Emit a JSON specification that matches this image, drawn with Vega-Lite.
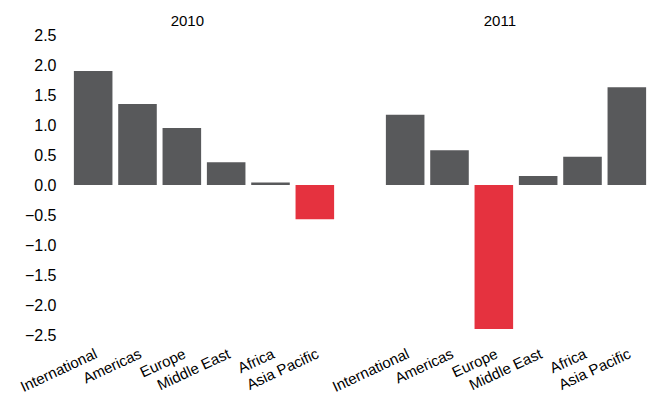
{
  "$schema": "https://vega.github.io/schema/vega-lite/v6.json",
  "padding": {"left": 17, "top": 14, "right": 0, "bottom": 0},
  "autosize": {"type": "pad"},
  "config": {"font": "Liberation Sans", "view": {"stroke": null}},
  "data": {
    "values": [
      {"year": "2010", "region": "International", "value": 1.9},
      {"year": "2010", "region": "Americas", "value": 1.35},
      {"year": "2010", "region": "Europe", "value": 0.95},
      {"year": "2010", "region": "Middle East", "value": 0.38},
      {"year": "2010", "region": "Africa", "value": 0.04},
      {"year": "2010", "region": "Asia Pacific", "value": -0.57},
      {"year": "2011", "region": "International", "value": 1.17},
      {"year": "2011", "region": "Americas", "value": 0.58},
      {"year": "2011", "region": "Europe", "value": -2.4},
      {"year": "2011", "region": "Middle East", "value": 0.15},
      {"year": "2011", "region": "Africa", "value": 0.47},
      {"year": "2011", "region": "Asia Pacific", "value": 1.63}
    ]
  },
  "facet": {
    "column": {
      "field": "year",
      "type": "ordinal",
      "header": {"title": null, "labelFontSize": 15, "labelColor": "#000000", "labelPadding": 6, "labelFont": "Liberation Sans", "labelAlign": "right", "labelAnchor": "middle"}
    }
  },
  "spacing": 46,
  "spec": {
    "width": 266,
    "height": 300,
    "mark": {"type": "bar"},
    "encoding": {
      "x": {
        "field": "region",
        "type": "nominal",
        "sort": null,
        "scale": {"paddingInner": 0.13, "paddingOuter": 0.065},
        "axis": {
          "title": null,
          "labelAngle": -25,
          "labelAlign": "right",
          "labelBaseline": "top",
          "ticks": false,
          "domain": false,
          "labelPadding": 11,
          "labelFontSize": 15,
          "labelColor": "#000000"
        }
      },
      "y": {
        "field": "value",
        "type": "quantitative",
        "scale": {"domain": [-2.5, 2.5], "nice": false},
        "axis": {
          "title": null,
          "values": [-2.5, -2, -1.5, -1, -0.5, 0, 0.5, 1, 1.5, 2, 2.5],
          "format": ".1f",
          "grid": false,
          "ticks": false,
          "domain": false,
          "labelPadding": 15,
          "labelFontSize": 16,
          "labelColor": "#000000"
        }
      },
      "color": {
        "condition": {"test": "datum.value < 0", "value": "#e5323f"},
        "value": "#58595b"
      }
    }
  }
}
